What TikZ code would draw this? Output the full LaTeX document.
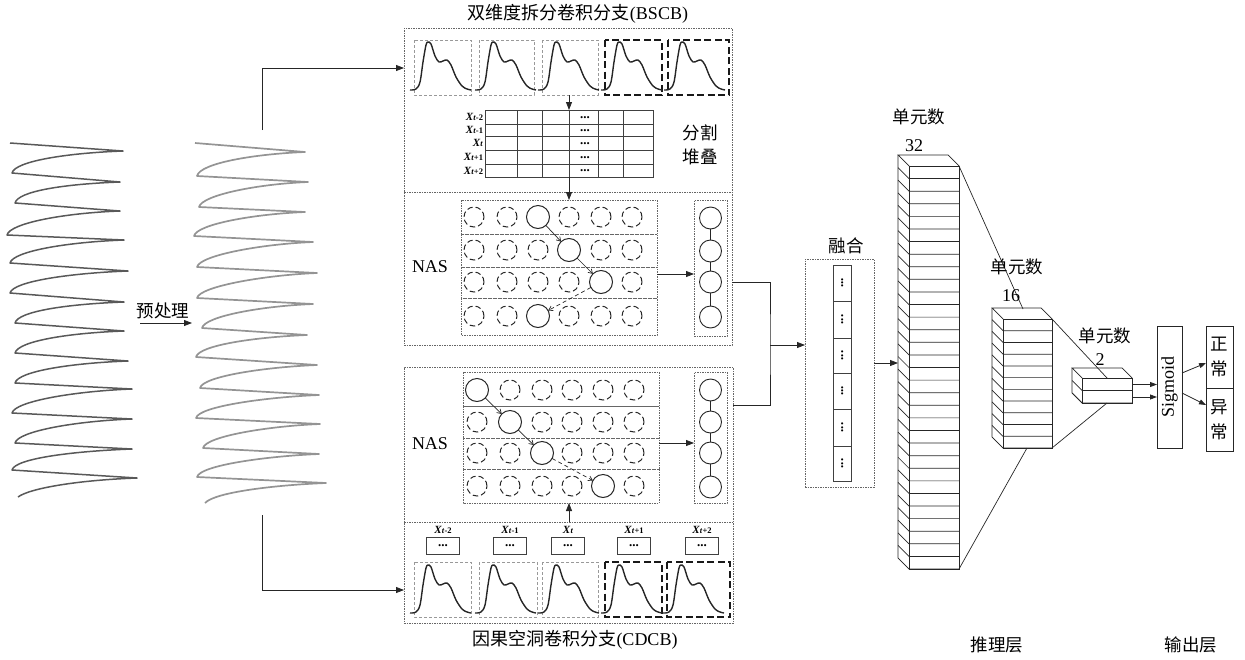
\documentclass[tikz,border=0pt]{standalone}
\usepackage{fontspec}
\setmainfont{Liberation Serif}
\newfontfamily\cjk{Noto Sans CJK SC}
\usetikzlibrary{arrows.meta}
\newcommand\XL[1]{{\fontsize{11}{11}\selectfont\textbf{\textit{X}}}{\fontsize{8.5}{8.5}\selectfont\textbf{\textit{t}#1}}}
\newcommand\dd{\textbf{...}}
\newcommand\pulse[2]{\begin{scope}[shift={(#1,#2)}]\draw[pulse] plot[smooth,tension=0.55] coordinates {(-4,0) (2,-1) (6,-8) (9,-28) (12,-45) (14,-48) (17,-46) (21,-34) (25,-28) (29,-29) (33,-30) (37,-25) (42,-13) (48,-4) (53,-1) (57,0)};\end{scope}}
\newcommand\block[7]{%
  \pgfmathsetmacro\rh{#5/#7}%
  \coordinate (#1-tl) at (#2,#3);
  \coordinate (#1-tr) at ({#2+#4},#3);
  \coordinate (#1-br) at ({#2+#4},{#3+#5});
  \coordinate (#1-bl) at (#2,{#3+#5});
  \draw[blk] (#1-tl) -- ++(-#6,-#6) -- ++(#4,0) -- (#1-tr);
  \draw[blk] (#1-tl) ++(-#6,-#6) -- ++(0,#5) -- (#1-bl);
  \draw[blk] (#1-tl) rectangle (#1-br);
  \foreach \i in {1,...,#7}{\draw[blk] ({#2-#6},{#3-#6+\i*\rh}) -- (#2,{#3+\i*\rh}) -- ({#2+#4},{#3+\i*\rh});}%
}
\begin{document}
\begin{tikzpicture}[x=1pt,y=-1pt,
  every node/.style={inner sep=0pt,outer sep=0pt},
  lbl/.style={font=\fontsize{18}{18}\selectfont},
  cn/.style={font=\cjk\fontsize{17.5}{17.5}\selectfont},
  dots/.style={font=\fontsize{13}{13}\selectfont, text height=2pt, text depth=0pt},
  outer/.style={draw=black!60, dash pattern=on 1.5pt off 1pt, line width=0.6pt},
  lightbox/.style={draw=black!40, dash pattern=on 3pt off 2pt, line width=0.7pt},
  heavybox/.style={draw=black!90, dash pattern=on 7pt off 3.5pt, line width=1.5pt},
  pulse/.style={draw=black!85, line width=1.4pt, line join=round},
  dc/.style={circle, draw=black!85, dash pattern=on 5.5pt off 3pt, line width=1pt, minimum size=20pt},
  sc/.style={circle, draw=black!85, line width=1pt, minimum size=23pt},
  cc/.style={circle, draw=black!85, line width=0.9pt, minimum size=22pt},
  gridl/.style={draw=black!75, line width=0.9pt},
  line/.style={draw=black!85, line width=0.8pt},
  arr/.style={line, -{Triangle[length=8pt,width=6pt]}},
  sarr/.style={line, -{Triangle[length=7pt,width=5pt]}},
  barb/.style={draw=black!85, line width=0.7pt, -{Straight Barb[length=4pt,width=5pt]}},
  blk/.style={draw=black!85, line width=0.7pt},
  wave1/.style={draw=black!65, line width=1.5pt, line join=round},
  wave2/.style={draw=black!42, line width=1.7pt, line join=round},
]
\useasboundingbox (0,0) rectangle (1245,659);

% ---------- input waveforms ----------
\draw[wave1] (10,143) -- (123,151)
 .. controls (68,153) and (15,161) .. (12,173) -- (120,182)
 .. controls (65,184) and (18,191) .. (15,203) -- (120,211)
 .. controls (65,213) and (10,223) .. (7,235) -- (124,240)
 .. controls (69,242) and (13,251) .. (10,263) -- (128,271)
 .. controls (73,273) and (13,281) .. (10,293) -- (124,302)
 .. controls (69,304) and (18,311) .. (15,323) -- (124,331)
 .. controls (69,333) and (18,341) .. (15,353) -- (128,361)
 .. controls (73,363) and (18,371) .. (15,383) -- (132,389)
 .. controls (77,391) and (15,401) .. (12,413) -- (132,419)
 .. controls (77,421) and (18,431) .. (15,443) -- (132,449)
 .. controls (77,451) and (15,458) .. (12,470) -- (137,478)
 .. controls (80,480) and (30,488) .. (18,497);
\draw[wave2] (195,143) -- (305,152)
 .. controls (255,154) and (200,163) .. (197,176) -- (308,182)
 .. controls (258,184) and (202,195) .. (199,207) -- (305,212)
 .. controls (255,214) and (197,224) .. (194,236) -- (313,242)
 .. controls (263,244) and (200,255) .. (197,267) -- (317,273)
 .. controls (267,275) and (200,286) .. (197,298) -- (313,304)
 .. controls (263,306) and (205,316) .. (202,328) -- (307,335)
 .. controls (257,337) and (199,345) .. (196,357) -- (317,365)
 .. controls (267,367) and (203,376) .. (200,388) -- (319,395)
 .. controls (269,397) and (199,406) .. (196,418) -- (320,424)
 .. controls (270,426) and (206,436) .. (203,448) -- (319,454)
 .. controls (269,456) and (200,465) .. (197,477) -- (326,483)
 .. controls (276,485) and (215,492) .. (205,503);

\node[cn] (pre) at (163,311) {预处理};
\coordinate (pp1) at (140,323);
\coordinate (pp2) at (192,323);
\draw[arr] (pp1) -- (pp2);

% ---------- branch boxes ----------
\node[outer, anchor=north west, minimum width=328, minimum height=317] (bscb) at (404,28) {};
\draw[outer] (bscb.west |- 0,192) -- (bscb.east |- 0,192);
\node[outer, anchor=north west, minimum width=329, minimum height=256] (cdcb) at (404,367) {};
\draw[outer] (cdcb.west |- 0,522) -- (cdcb.east |- 0,522);

\node[lbl] (tb) at (578,14) {{\cjk 双维度拆分卷积分支}(BSCB)};
\node[lbl] (tc) at (575,640) {{\cjk 因果空洞卷积分支}(CDCB)};

\coordinate (w2t) at (262,130);
\coordinate (w2b) at (262,515);
\draw[arr] (w2t) |- (bscb.west |- 0,68);
\draw[arr] (w2b) |- (cdcb.west |- 0,590);

% ---------- BSCB windows ----------
\foreach \x/\w/\s in {414/57/lightbox, 479/55/lightbox, 542/56/lightbox, 605/57/heavybox, 668/61/heavybox}{
  \draw[\s] (\x,40) rectangle ({\x+\w},95);
  \pulse{\x}{90}
}
% split & stack grid
\node[anchor=north west, minimum width=168, minimum height=67] (grid) at (485,110) {};
\draw[gridl] (485,110) rectangle (653,177);
\foreach \y in {124,136,150,164} \draw[gridl] (485,\y) -- (653,\y);
\foreach \x in {517,542,569,598,623} \draw[gridl] (\x,110) -- (\x,177);
\foreach \n/\y/\s in {r1/117/{-2}, r2/130/{-1}, r3/143/{}, r4/157/{+1}, r5/170.5/{+2}}{
  \node[anchor=east] (l\n) at (483,\y) {\XL{\s}};
  \node[dots] (d\n) at (585,\y) {\dd};
}
\node[cn] (fg) at (700,133) {分割};
\node[cn] (dd2) at (700,157) {堆叠};
\coordinate (a1) at (569,95);

% ---------- NAS top ----------
\node[lbl] (nas1) at (430,267) {NAS};
\node[anchor=north west, minimum width=196, minimum height=135] (tg) at (461,200) {};
\foreach \a/\b in {200/234, 234/267, 267/298, 298/335} \draw[outer] (461,\a) rectangle (657,\b);
\foreach \c/\x/\s in {1/474/dc,2/507/dc,3/538/sc,4/569/dc,5/601/dc,6/632/dc} \node[\s] (t1\c) at (\x,217) {};
\foreach \c/\x/\s in {1/474/dc,2/507/dc,3/538/dc,4/569/sc,5/601/dc,6/632/dc} \node[\s] (t2\c) at (\x,250) {};
\foreach \c/\x/\s in {1/474/dc,2/507/dc,3/538/dc,4/569/dc,5/601/sc,6/632/dc} \node[\s] (t3\c) at (\x,282) {};
\foreach \c/\x/\s in {1/474/dc,2/507/dc,3/538/sc,4/569/dc,5/601/dc,6/632/dc} \node[\s] (t4\c) at (\x,316) {};
\draw[barb] (t13) -- (t24);
\draw[barb] (t24) -- (t35);
\draw[barb, dash pattern=on 4pt off 3pt] (t35) -- (t43);
\node[outer, anchor=north west, minimum width=33, minimum height=136] (tcol) at (694,200) {};
\foreach \i/\y in {1/218,2/251,3/282,4/317} \node[cc] (tc\i) at (710.5,\y) {};
\draw[line] (tc1) -- (tc2) (tc2) -- (tc3) (tc3) -- (tc4);
\draw[arr] (tg.east |- 0,274) -- (tcol.west |- 0,274);

\draw[arr] (a1) -- (grid.north -| a1);
\draw[arr] (grid.south -| a1) -- (tg.north -| a1);

% ---------- NAS bottom ----------
\node[lbl] (nas2) at (430,444) {NAS};
\node[anchor=north west, minimum width=196, minimum height=131] (bg) at (463,372) {};
\foreach \a/\b in {372/406, 406/438, 438/469, 469/503} \draw[outer] (463,\a) rectangle (659,\b);
\foreach \c/\x/\s in {1/477/sc,2/510/dc,3/542/dc,4/572/dc,5/603/dc,6/634/dc} \node[\s] (b1\c) at (\x,390) {};
\foreach \c/\x/\s in {1/477/dc,2/510/sc,3/542/dc,4/572/dc,5/603/dc,6/634/dc} \node[\s] (b2\c) at (\x,422) {};
\foreach \c/\x/\s in {1/477/dc,2/510/dc,3/542/sc,4/572/dc,5/603/dc,6/634/dc} \node[\s] (b3\c) at (\x,453) {};
\foreach \c/\x/\s in {1/477/dc,2/510/dc,3/542/dc,4/572/dc,5/603/sc,6/634/dc} \node[\s] (b4\c) at (\x,486) {};
\draw[barb] (b11) -- (b22);
\draw[barb] (b22) -- (b33);
\draw[barb, dash pattern=on 4pt off 3pt] (b33) -- (b45);
\node[outer, anchor=north west, minimum width=33, minimum height=131] (bcol) at (694,372) {};
\foreach \i/\y in {1/390,2/422,3/453,4/487} \node[cc] (bc\i) at (710.5,\y) {};
\draw[line] (bc1) -- (bc2) (bc2) -- (bc3) (bc3) -- (bc4);
\draw[arr] (bg.east |- 0,443) -- (bcol.west |- 0,443);

\coordinate (a2) at (569,522);
\draw[arr] (a2) -- (bg.south -| a2);

% ---------- CDCB windows ----------
\foreach \n/\x/\s in {1/443/{-2}, 2/510/{-1}, 3/568/{}, 4/634/{+1}, 5/702/{+2}}{
  \node (cx\n) at (\x,530) {\XL{\s}};
  \node[gridl, minimum width=33, minimum height=17] (cb\n) at (\x,545.5) {};
  \node[dots] (cd\n) at (\x,545) {\dd};
}
\foreach \x/\w/\s in {414/57/lightbox, 479/58/lightbox, 542/56/lightbox, 605/57/heavybox, 667/63/heavybox}{
  \draw[\s] (\x,562) rectangle ({\x+\w},617);
  \pulse{\x}{613}
}

% ---------- fusion ----------
\coordinate (jn) at (770,345);
\node[outer, anchor=north west, minimum width=69, minimum height=228] (fus) at (805,259) {};
\node[cn] (fl) at (846,246) {融合};
\draw[line] (bscb.east |- 0,282) -| (jn) |- (cdcb.east |- 0,405);
\draw[arr] (jn) -- (fus.west |- jn);
\foreach \a/\b in {265/301,301/338,338/373,373/409,409/446,446/481}{
  \draw[gridl] (833,\a) rectangle (851,\b);
  \node[dots, rotate=90] at (842,{(\a+\b)/2}) {\dd};
}

% ---------- dense blocks ----------
\block{b32}{909}{166}{50}{403}{11}{32}
\block{b16}{1003}{319}{49}{129}{11}{11}
\block{b2}{1082}{378}{50}{25}{10}{2}
\coordinate (k0) at (898,363);
\draw[arr] (fus.east |- k0) -- (k0);
\coordinate (k1) at (1023,309);
\coordinate (k2) at (1027,448);
\coordinate (k3) at (1107,378);
\coordinate (k4) at (1107,403);
\draw[blk] (b32-tr) -- (k1);
\draw[blk] (b32-br) -- (k2);
\draw[blk] (b16-tr) -- (k3);
\draw[blk] (b16-br) -- (k4);

\node[cn] (u1) at (919,117) {单元数};
\node[lbl] (n32) at (914,146) {32};
\node[cn] (u2) at (1017,267) {单元数};
\node[lbl] (n16) at (1011,296) {16};
\node[cn] (u3) at (1105,336) {单元数};
\node[lbl] (n2) at (1100,360) {2};

% ---------- output ----------
\node[line, draw, minimum width=25, minimum height=122] (sig) at (1169.5,387) {};
\node[lbl, rotate=90] (sigt) at (sig.center) {Sigmoid};
\draw[sarr] (1132,384.5) -- (sig.west |- 0,384.5);
\draw[sarr] (1132,397) -- (sig.west |- 0,397);
\node[line, draw, anchor=north west, minimum width=27, minimum height=62] (o1) at (1206,326) {};
\node[line, draw, anchor=north west, minimum width=27, minimum height=63] (o2) at (1206,388) {};
\node[cn, align=center, font=\cjk\fontsize{17.5}{25}\selectfont] (o1t) at (o1.center) {正\\常};
\node[cn, align=center, font=\cjk\fontsize{17.5}{25}\selectfont] (o2t) at (o2.center) {异\\常};
\draw[sarr] (sig.east |- 0,373) -- (o1.west |- 0,363);
\draw[sarr] (sig.east |- 0,393) -- (o2.west |- 0,405);

\node[cn] (inf) at (997,645) {推理层};
\node[cn] (outl) at (1191,645) {输出层};
\end{tikzpicture}
\end{document}
